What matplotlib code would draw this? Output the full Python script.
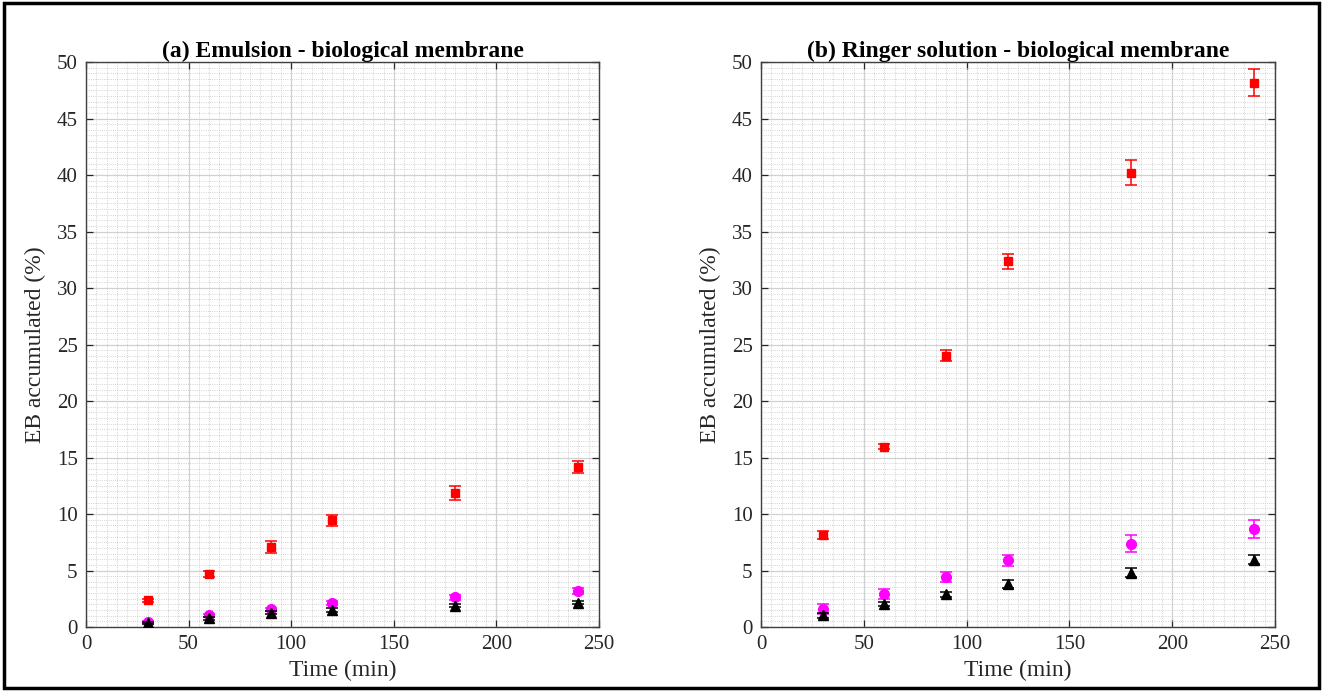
import matplotlib
matplotlib.use("Agg")
import matplotlib.pyplot as plt
from matplotlib.ticker import MultipleLocator
from matplotlib.patches import Rectangle

time_min = [30, 60, 90, 120, 180, 240]

# Panel (a) Emulsion
a_red = [2.36, 4.69, 7.08, 9.44, 11.86, 14.16]
a_red_err = [0.15, 0.3, 0.57, 0.5, 0.62, 0.56]
a_mag = [0.45, 1.03, 1.56, 2.12, 2.63, 3.16]
a_mag_err = [0.1, 0.12, 0.15, 0.15, 0.2, 0.25]
a_blk = [0.38, 0.76, 1.26, 1.5, 1.88, 2.16]
a_blk_err = [0.1, 0.12, 0.15, 0.15, 0.15, 0.15]

# Panel (b) Ringer solution
b_red = [8.12, 15.97, 24.0, 32.35, 40.2, 48.18]
b_red_err = [0.35, 0.2, 0.5, 0.67, 1.09, 1.16]
b_mag = [1.62, 2.91, 4.41, 5.91, 7.38, 8.68]
b_mag_err = [0.43, 0.44, 0.45, 0.5, 0.75, 0.78]
b_blk = [1.03, 2.03, 2.88, 3.82, 4.79, 5.97]
b_blk_err = [0.2, 0.2, 0.25, 0.35, 0.4, 0.4]

titles = ["(a) Emulsion - biological membrane", "(b) Ringer solution - biological membrane"]
xlabel = "Time (min)"
ylabel = "EB accumulated (%)"

plt.rcParams['font.family'] = ['Liberation Serif', 'DejaVu Serif']

fig = plt.figure(figsize=(13.23, 6.91), dpi=100)
positions = [[86/1323, 1-627/691, 513/1323, 565/691],
             [761/1323, 1-627/691, 514/1323, 565/691]]

panels = [
    (a_red, a_red_err, a_mag, a_mag_err, a_blk, a_blk_err),
    (b_red, b_red_err, b_mag, b_mag_err, b_blk, b_blk_err),
]

for i, (r, re, m, me, k, ke) in enumerate(panels):
    ax = fig.add_axes(positions[i])
    ax.set_xlim(0, 250)
    ax.set_ylim(0, 50)
    ax.xaxis.set_major_locator(MultipleLocator(50))
    ax.xaxis.set_minor_locator(MultipleLocator(5))
    ax.yaxis.set_major_locator(MultipleLocator(5))
    ax.yaxis.set_minor_locator(MultipleLocator(0.5))
    ax.grid(which='major', color='#d0d0d0', linewidth=0.9, linestyle='-')
    ax.grid(which='minor', color='#c4c4c4', linewidth=0.6, linestyle=':')
    ax.set_axisbelow(True)
    ax.tick_params(which='major', direction='in', top=True, right=True, length=5,
                   width=0.9, color='#262626', labelsize=15, pad=6,
                   labelcolor='#262626')
    ax.tick_params(which='minor', length=0, top=True, right=True)
    for s in ax.spines.values():
        s.set_color('#404040')
        s.set_linewidth(1.0)
    ax.errorbar(time_min, r, yerr=re, fmt='s', color='red', ecolor='red',
                markersize=6, capsize=4.5, elinewidth=1.1, capthick=1.1, zorder=3)
    ax.errorbar(time_min, m, yerr=me, fmt='o', color='magenta', ecolor='magenta',
                markersize=7, capsize=4.5, elinewidth=1.1, capthick=1.1, zorder=4)
    ax.errorbar(time_min, k, yerr=ke, fmt='^', color='black', ecolor='black',
                markersize=7, capsize=4.5, elinewidth=1.1, capthick=1.1, zorder=5)
    ax.set_title(titles[i], fontsize=17, fontweight='bold', pad=3)
    ax.set_xlabel(xlabel, fontsize=17, labelpad=4, color='#262626')
    ax.set_ylabel(ylabel, fontsize=17, labelpad=8, color='#262626')

fig.patches.append(Rectangle((0.003, 0.004), 0.994, 0.991, transform=fig.transFigure,
                             fill=False, edgecolor='black', linewidth=2.5))

fig.savefig("out.png", dpi=100, facecolor='white')
